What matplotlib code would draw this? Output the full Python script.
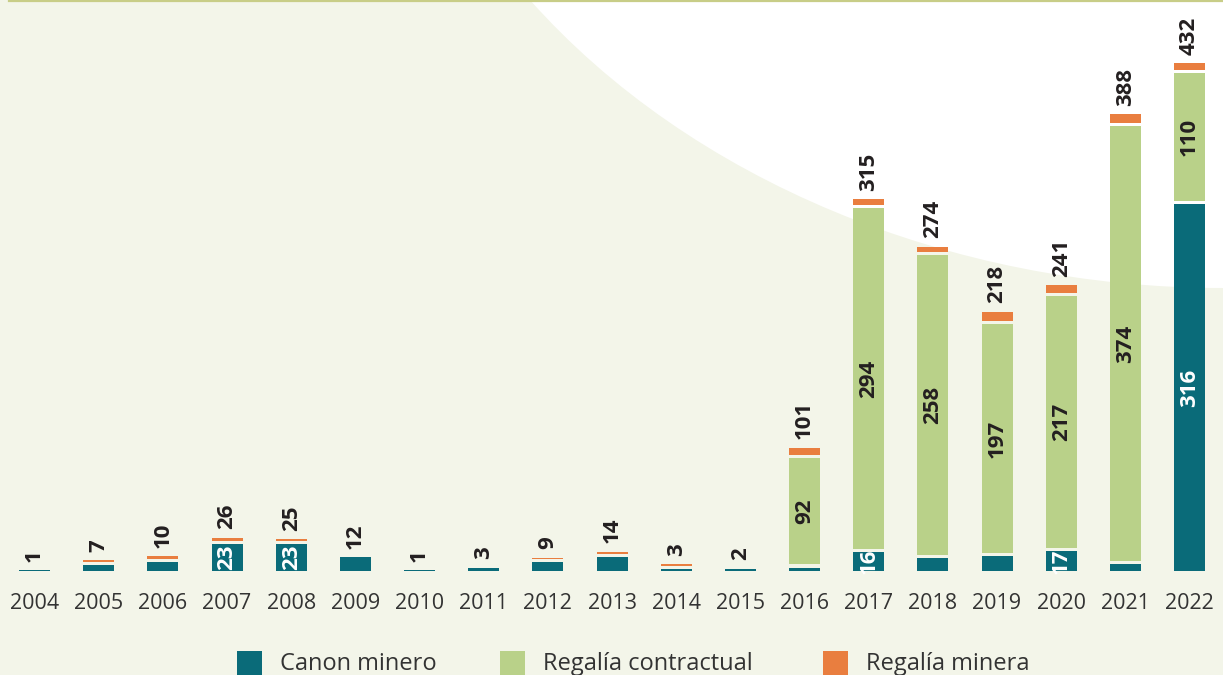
import matplotlib
matplotlib.use('Agg')
import matplotlib.pyplot as plt
import numpy as np
from matplotlib.path import Path
from matplotlib.patches import PathPatch, Rectangle

# ===== datos =====
years = ['2004', '2005', '2006', '2007', '2008', '2009', '2010', '2011', '2012', '2013',
         '2014', '2015', '2016', '2017', '2018', '2019', '2020', '2021', '2022']
canon = [1, 5, 8, 23, 23, 12, 1, 3, 8, 12, 2, 2, 3, 16, 11, 13, 17, 6, 316]
contractual = [0, 0, 0, 0, 0, 0, 0, 0, 0, 0, 0, 0, 92, 294, 258, 197, 217, 374, 110]
minera = [0, 2, 2, 3, 2, 0, 0, 0, 1, 2, 1, 0, 6, 5, 5, 8, 7, 8, 6]
series_names = ['Canon minero', 'Regalía contractual', 'Regalía minera']

# ===== estilo =====
c_canon = '#0a6b79'
c_contr = '#b9d189'
c_minera = '#e97e3f'
c_bg = '#f3f5e9'
c_text = '#231f20'
plt.rcParams['font.family'] = ['Open Sans', 'DejaVu Sans']

W, H = 1223, 675
fig = plt.figure(figsize=(W / 100, H / 100), dpi=100, facecolor=c_bg)

# fondo: zona blanca curva arriba a la derecha
def fp(x, y):
    return (x / W, 1 - y / H)

verts = [fp(530, 0), fp(690, 180), fp(950, 288), fp(1223, 288), fp(1223, 0), fp(530, 0)]
codes = [Path.MOVETO, Path.CURVE4, Path.CURVE4, Path.CURVE4, Path.LINETO, Path.CLOSEPOLY]
fig.patches.append(PathPatch(Path(verts, codes), transform=fig.transFigure,
                             facecolor='white', edgecolor='none', zorder=-1))
fig.add_artist(plt.Line2D([9 / W, 1], [1 - 1 / H, 1 - 1 / H], color='#c8cd87',
                          linewidth=1.6, transform=fig.transFigure))

# ejes
px_per_unit = 1.162
base = 571
ax = fig.add_axes([0, (H - base) / H, 1, base / H])
ax.set_facecolor('none')
step = 64.17
x0 = 34.5
ax.set_xlim(-x0 / step, (W - x0) / step)
ax.set_ylim(0, base / px_per_unit)
for s in ax.spines.values():
    s.set_visible(False)
ax.set_yticks([])

x = np.arange(len(years))
width = 0.483
gap = 2.6

canon_a = np.array(canon, float)
contr_a = np.array(contractual, float)
min_a = np.array(minera, float)

b_contr = canon_a + gap
b_min = np.where(contr_a > 0, b_contr + contr_a + gap, canon_a + gap)

bars_c = ax.bar(x, canon_a, width, color=c_canon, linewidth=0)
bars_g = ax.bar(x, contr_a, width, bottom=b_contr, color=c_contr, linewidth=0)
bars_m = ax.bar(x, min_a, width, bottom=b_min, color=c_minera, linewidth=0)

lab_kw = dict(rotation=90, ha='center', va='center', fontsize=16, fontweight='bold')

# etiquetas dentro de los segmentos
for i in range(len(years)):
    if canon_a[i] >= 15:
        t = ax.text(x[i], canon_a[i] / 2, f'{canon[i]}', color='white', **lab_kw)
        t.set_clip_path(bars_c[i])
    if contr_a[i] > 0:
        ax.text(x[i], b_contr[i] + contr_a[i] / 2, f'{contractual[i]}', color=c_text, **lab_kw)

# totales arriba
for i in range(len(years)):
    top = b_min[i] + min_a[i] if min_a[i] > 0 else (b_contr[i] + contr_a[i] if contr_a[i] > 0 else canon_a[i])
    total = canon[i] + contractual[i] + minera[i]
    ax.annotate(f'{total}', (x[i], top), xytext=(0, 6), textcoords='offset points',
                rotation=90, ha='center', va='bottom', fontsize=16, fontweight='bold',
                color=c_text)

ax.set_xticks(x)
ax.set_xticklabels(years, fontsize=15.5, color='#333333')
ax.tick_params(axis='x', length=0, pad=16)

# leyenda
leg_x = [237, 500, 823]
colors = [c_canon, c_contr, c_minera]
for lx, col, name in zip(leg_x, colors, series_names):
    fig.patches.append(Rectangle(fp(lx, 680), 25 / W, 29 / H, transform=fig.transFigure,
                                 facecolor=col, edgecolor='none'))
    fig.text((lx + 43) / W, (H - 670) / H, name, fontsize=17, color='#333333',
             ha='left', va='baseline')

fig.savefig('out.png', dpi=100, facecolor=c_bg)
